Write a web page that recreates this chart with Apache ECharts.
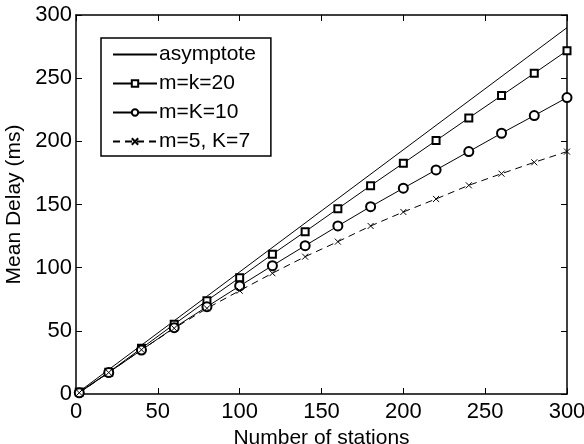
<!DOCTYPE html>
<html>
<head>
<meta charset="utf-8">
<script src="https://cdn.jsdelivr.net/npm/echarts@6/dist/echarts.min.js"></script>
<style>
  html, body { margin: 0; padding: 0; background: #fff; }
  #main { width: 584px; height: 444px; }
</style>
</head>
<body>
<div id="main"></div>
<script>
// ---- data
var stations = [2, 20, 40, 60, 80, 100, 120, 140, 160, 180, 200, 220, 240, 260, 280, 300];
var asymX = [0, 300];
var asymY = [0, 290];
var mk20 = [1.5, 17.2, 36.2, 55.2, 73.9, 92.1, 110.6, 128.5, 146.7, 164.9, 182.7, 200.6, 218.5, 236.2, 253.9, 271.8];
var mK10 = [1, 17, 34.8, 52.5, 69.1, 85.5, 101.6, 117.4, 133.0, 148.3, 162.9, 177.4, 191.9, 206.4, 220.4, 234.6];
var m5K7 = [1, 17, 35, 52, 67.8, 81.8, 95.6, 108.7, 120.6, 133.0, 144.1, 154.4, 165.2, 174.4, 183.4, 191.9];
var axisTicks = [0, 50, 100, 150, 200, 250, 300];

function pairs(xs, ys) {
    return xs.map(function (x, i) { return [x, ys[i]]; });
}

var font = 'Liberation Sans, Arial, Helvetica, sans-serif';
var crossPath = 'path://M0,0L10,10M10,0L0,10';

window.myChart = echarts.init(document.getElementById('main'));

var baseAxis = {
    type: 'value',
    min: axisTicks[0],
    max: axisTicks[axisTicks.length - 1],
    interval: 50,
    splitLine: { show: false },
    axisLine: { show: true, onZero: false, lineStyle: { color: '#000', width: 1.5 } },
    axisTick: { show: true, inside: true, length: 6, lineStyle: { color: '#000', width: 1 } },
    axisLabel: { color: '#000', fontSize: 22, fontFamily: font }
};

var option = {
    backgroundColor: '#fff',
    animation: false,
    grid: { left: 76, right: 17, top: 15, bottom: 50, outerBoundsMode: 'none', containLabel: false },
    xAxis: [
        Object.assign({}, baseAxis, {
            position: 'bottom',
            name: 'Number of stations',
            nameLocation: 'middle',
            nameGap: 24,
            nameTextStyle: { color: '#000', fontSize: 21, fontFamily: font },
            axisLabel: Object.assign({}, baseAxis.axisLabel, { margin: 7 })
        }),
        Object.assign({}, baseAxis, {
            position: 'top',
            axisLabel: { show: false }
        })
    ],
    yAxis: [
        Object.assign({}, baseAxis, {
            position: 'left',
            name: 'Mean Delay (ms)',
            nameLocation: 'middle',
            nameGap: 50,
            nameTextStyle: { color: '#000', fontSize: 21, fontFamily: font },
            axisLabel: Object.assign({}, baseAxis.axisLabel, { margin: 4 })
        }),
        Object.assign({}, baseAxis, {
            position: 'right',
            axisLabel: { show: false }
        })
    ],
    legend: {
        orient: 'vertical',
        left: 101,
        top: 38,
        padding: [6, 15, 4, 11],
        itemGap: 8,
        itemWidth: 44,
        itemHeight: 8,
        backgroundColor: '#fff',
        borderColor: '#000',
        borderWidth: 1.5,
        borderRadius: 0,
        textStyle: { color: '#000', fontSize: 21, fontFamily: font, padding: [0, 0, 0, -3] },
        data: [
            { name: 'asymptote', itemStyle: { opacity: 0 } },
            'm=k=20', 'm=K=10', 'm=5, K=7'
        ]
    },
    series: [
        {
            name: 'asymptote',
            type: 'line',
            data: pairs(asymX, asymY),
            showSymbol: false,
            symbol: 'none',
            lineStyle: { color: '#000', width: 1 },
            itemStyle: { color: '#000' }
        },
        {
            name: 'm=k=20',
            type: 'line',
            data: pairs(stations, mk20),
            symbol: 'emptyRect',
            symbolSize: 7,
            lineStyle: { color: '#000', width: 1 },
            itemStyle: { color: '#000', borderColor: '#000', borderWidth: 1 }
        },
        {
            name: 'm=K=10',
            type: 'line',
            data: pairs(stations, mK10),
            symbol: 'emptyCircle',
            symbolSize: 9,
            lineStyle: { color: '#000', width: 1 },
            itemStyle: { color: '#000', borderColor: '#000', borderWidth: 1 }
        },
        {
            name: 'm=5, K=7',
            type: 'line',
            data: pairs(stations, m5K7),
            symbol: crossPath,
            symbolSize: 6,
            lineStyle: { color: '#000', width: 1, type: [7, 5] },
            itemStyle: { color: 'none', borderColor: '#000', borderWidth: 1 }
        }
    ]
};

myChart.setOption(option);
</script>
</body>
</html>
